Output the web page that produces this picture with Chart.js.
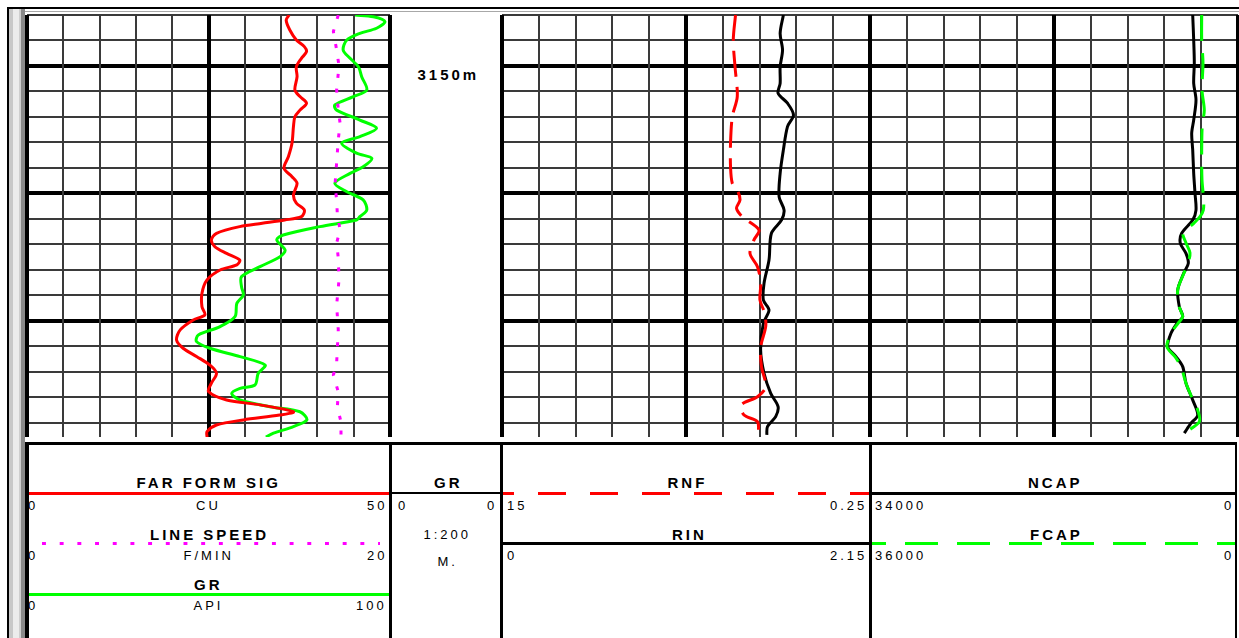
<!DOCTYPE html>
<html>
<head>
<meta charset="utf-8">
<script src="https://cdn.jsdelivr.net/npm/chart.js@4.4.1/dist/chart.umd.min.js"></script>
<style>
  html, body { margin: 0; padding: 0; background: #fff; }
  body { position: relative; width: 1239px; height: 638px; overflow: hidden;
         font-family: "Liberation Sans", Arial, sans-serif; color: #000; }
  canvas, .box, .t { position: absolute; }
  .t { white-space: nowrap; line-height: 1; font-size: 13px; letter-spacing: 3px; z-index: 1; }
  .t.b { font-weight: bold; font-size: 15px; }
  .box { z-index: 2; }
</style>
</head>
<body>
<script>
/* Well log: depth track + three curve tracks, header below. */
(function () {
  const DEPTH_TOP = 3148;
  const DEPTH_BOTTOM = 3164.55;
  const depthLabels = [3150];

  // ---- Track 1: FAR FORM SIG (CU 0-50), LINE SPEED (F/MIN 0-20), GR (API 0-100) ----
  const farDepth = [3148.00, 3148.20, 3148.59, 3148.98, 3149.24, 3149.44, 3149.70, 3150.03, 3150.42, 3150.94,
    3151.20, 3151.46, 3151.73, 3151.99, 3152.38, 3153.03, 3153.56, 3154.01, 3154.34, 3154.60,
    3155.06, 3155.38, 3155.65, 3155.91, 3156.04, 3156.17, 3156.30, 3156.56, 3156.82, 3157.09,
    3157.35, 3157.61, 3157.80, 3158.00, 3158.39, 3158.91, 3159.44, 3159.76, 3159.96, 3160.35,
    3160.75, 3161.07, 3161.40, 3161.73, 3162.05, 3162.44, 3162.77, 3163.10, 3163.29, 3163.56,
    3163.69, 3163.88, 3164.08, 3164.34, 3164.55];
  const farSig = [36.1, 35.7, 36.2, 37.1, 38.2, 38.5, 37.8, 37.1, 37.2, 36.9,
    37.6, 38.5, 37.6, 36.9, 36.7, 36.5, 36.0, 35.4, 36.5, 37.2,
    36.7, 37.1, 38.2, 37.8, 35.5, 32.4, 29.3, 26.1, 25.4, 25.9,
    27.5, 29.3, 28.9, 26.6, 24.8, 24.1, 24.1, 24.5, 22.9, 21.1,
    20.6, 21.5, 23.4, 25.2, 26.1, 25.4, 25.0, 27.5, 32.1, 36.7,
    34.8, 29.8, 26.1, 24.8, 24.8];

  const lsDepth = [3148.00, 3148.65, 3149.37, 3150.00, 3150.94, 3151.73, 3152.24, 3152.90, 3154.67, 3155.25,
    3155.84, 3156.43, 3156.94, 3157.53, 3158.39, 3159.37, 3160.35, 3161.65, 3162.12, 3162.78,
    3163.37, 3163.96, 3164.55];
  const lineSpeed = [17.15, 16.88, 17.06, 17.19, 17.06, 17.15, 17.25, 17.15, 16.97, 17.06,
    17.10, 17.25, 17.06, 17.15, 17.19, 17.06, 17.15, 17.06, 16.88, 17.15,
    17.10, 17.30, 17.30];

  const grDepth = [3148.00, 3148.07, 3148.26, 3148.52, 3148.72, 3148.98, 3149.37, 3149.70, 3150.03, 3150.42,
    3150.94, 3151.20, 3151.53, 3151.73, 3152.12, 3152.44, 3152.77, 3153.03, 3153.42, 3153.62,
    3153.95, 3154.21, 3154.60, 3154.93, 3155.25, 3155.65, 3155.91, 3156.04, 3156.30, 3156.63,
    3156.82, 3157.22, 3157.48, 3157.87, 3158.26, 3158.66, 3158.98, 3159.31, 3159.83, 3160.22,
    3160.55, 3160.81, 3161.07, 3161.40, 3161.73, 3162.05, 3162.51, 3162.64, 3162.84, 3163.10,
    3163.36, 3163.56, 3163.88, 3164.14, 3164.40, 3164.55];
  const grApi = [90.4, 95.4, 98.6, 96.3, 91.7, 88.1, 87.1, 89.0, 91.3, 92.2,
    93.6, 89.9, 84.8, 85.3, 91.7, 96.3, 91.7, 86.7, 90.8, 95.0,
    92.6, 89.0, 84.8, 88.1, 92.6, 93.6, 91.7, 90.8, 80.7, 70.6,
    68.8, 71.1, 69.7, 64.2, 59.1, 59.1, 59.6, 57.8, 57.3, 53.2,
    47.2, 46.7, 50.4, 58.7, 65.6, 63.7, 62.8, 58.7, 56.4, 58.7,
    66.9, 75.2, 77.1, 73.4, 67.9, 65.8];

  // ---- Track 3: RNF (15 -> 0.25), RIN (0 -> 2.15) ----
  const rnfDepth = [3148.00, 3148.98, 3150.03, 3151.20, 3151.99, 3153.03, 3153.95, 3154.60, 3154.86, 3155.25,
    3155.58, 3155.91, 3156.43, 3156.82, 3157.35, 3157.87, 3158.52, 3159.18, 3159.70, 3160.22,
    3161.01, 3161.79, 3162.58, 3162.97, 3163.29, 3163.69, 3163.95, 3164.40];
  const rnf = [5.64, 5.73, 5.66, 5.57, 5.77, 5.84, 5.84, 5.77, 5.57, 5.46,
    5.60, 5.37, 4.70, 4.90, 5.06, 4.76, 4.63, 4.66, 4.47, 4.43,
    4.63, 4.60, 4.43, 4.76, 5.41, 5.30, 4.76, 4.72];

  const rinDepth = [3148.00, 3148.72, 3149.37, 3150.03, 3150.68, 3151.07, 3151.46, 3151.92, 3152.38, 3153.29,
    3154.21, 3155.13, 3155.65, 3156.04, 3156.56, 3157.61, 3158.52, 3159.18, 3159.57, 3160.09,
    3161.14, 3162.05, 3162.84, 3163.36, 3163.75, 3164.14, 3164.47];
  const rin = [1.644, 1.625, 1.639, 1.625, 1.625, 1.613, 1.668, 1.703, 1.668, 1.644,
    1.625, 1.619, 1.648, 1.633, 1.574, 1.560, 1.531, 1.527, 1.560, 1.527,
    1.511, 1.531, 1.570, 1.613, 1.599, 1.551, 1.547];

  // ---- Track 4: NCAP (34000 -> 0), FCAP (36000 -> 0) ----
  const ncapDepth = [3148.00, 3148.98, 3149.89, 3150.68, 3151.33, 3152.12, 3152.64, 3153.29, 3154.21, 3154.99,
    3155.65, 3156.04, 3156.56, 3156.95, 3157.35, 3157.74, 3158.13, 3158.78, 3159.44, 3159.83,
    3160.09, 3160.48, 3161.01, 3161.40, 3161.79, 3162.44, 3163.10, 3163.69, 3164.01, 3164.40];
  const ncap = [4185, 4093, 4037, 4093, 3880, 4093, 4278, 4185, 4093, 3973,
    3880, 4185, 5202, 5331, 4804, 4592, 5017, 5571, 5423, 5109,
    5636, 6190, 6495, 5728, 5109, 4804, 4185, 3723, 4342, 4961];

  const fcapDepth = [3148.00, 3148.98, 3149.88, 3150.94, 3151.73, 3152.31, 3153.29, 3154.47, 3155.25, 3155.65,
    3155.91, 3156.16, 3156.55, 3156.94, 3157.33, 3157.73, 3158.12, 3158.78, 3159.44, 3159.83,
    3160.09, 3160.48, 3161.01, 3161.40, 3161.79, 3162.44, 3163.10, 3163.49, 3163.95, 3164.40];
  const fcap = [3551, 3551, 3424, 3522, 3297, 3493, 3551, 3522, 3356, 3395,
    3718, 4305, 5381, 5087, 4696, 4892, 5283, 5899, 5743, 5410,
    5870, 6555, 6946, 6163, 5576, 5087, 4402, 3943, 3786, 5283];

  const COL = { red: "#ff0000", green: "#00ff00", magenta: "#ff00ff", black: "#000000",
                thin: "#3a3a3a", thick: "#000000" };
  const TOP = 15, PLOT_H = 422, PAD = 4;

  const pts = (depth, vals) => depth.map((d, i) => ({ x: vals[i], y: d }));

  function box(x, y, w, h, bg) {
    const d = document.createElement("div");
    d.className = "box";
    d.style.cssText = `left:${x}px;top:${y}px;width:${w}px;height:${h}px;background:${bg};`;
    document.body.appendChild(d);
    return d;
  }

  function text(str, x, y, align, bold) {
    const d = document.createElement("div");
    d.className = "t" + (bold ? " b" : "");
    d.textContent = str;
    document.body.appendChild(d);
    const w = d.offsetWidth, h = d.offsetHeight;
    let left = x;
    if (align === "c") left = x - (w - 3) / 2;
    if (align === "r") left = x - w + 3;
    d.style.left = left + "px";
    d.style.top = (y - h / 2) + "px";
  }

  function track(left, width, axes, datasets) {
    const cv = document.createElement("canvas");
    cv.width = width + PAD * 2;
    cv.height = PLOT_H + PAD + 1;
    cv.style.left = (left - PAD) + "px";
    cv.style.top = (TOP - PAD) + "px";
    document.body.appendChild(cv);
    const scales = {
      y: {
        type: "linear", axis: "y", position: "left", min: DEPTH_TOP, max: DEPTH_BOTTOM, reverse: true,
        ticks: { display: false, stepSize: 1, includeBounds: false, maxTicksLimit: 1000 },
        border: { display: false },
        grid: {
          drawTicks: false,
          color: (c) => (c.tick.value % 5 === 0 ? COL.thick : COL.thin),
          lineWidth: (c) => (c.tick.value % 5 === 0 ? 4 : 2),
        },
      },
      xg: {
        type: "linear", axis: "x", position: "bottom", min: 0, max: 10,
        ticks: { display: false, stepSize: 1, maxTicksLimit: 1000 },
        border: { display: false },
        grid: {
          drawTicks: false,
          color: (c) => (c.tick.value % 5 === 0 ? COL.thick : COL.thin),
          lineWidth: (c) => (c.tick.value % 5 === 0 ? 4 : 2),
        },
      },
    };
    Object.keys(axes).forEach((k) => {
      scales[k] = Object.assign({ type: "linear", axis: "x", display: false }, axes[k]);
    });
    return new Chart(cv, {
      type: "line",
      data: {
        datasets: datasets.map((d) =>
          Object.assign({ pointRadius: 0, borderWidth: 3, fill: false, tension: 0.3, yAxisID: "y" }, d)
        ),
      },
      options: {
        indexAxis: "y",
        responsive: false,
        animation: false,
        events: [],
        layout: { padding: { left: PAD, right: PAD, top: PAD, bottom: 1 } },
        plugins: { legend: { display: false }, tooltip: { enabled: false } },
        scales,
      },
    });
  }

  // ---- frame ----
  box(8, 7, 1231, 2, "#000");
  box(9, 11, 1230, 1, "#a8a8a8");
  box(7, 7, 2, 631, "#000");
  box(9, 9, 4, 629, "#c8c8c8");
  box(13, 9, 6, 629, "#ececec");
  box(19, 9, 2, 629, "#cfcfcf");
  box(21, 9, 4, 629, "#8a8a8a");

  // ---- tracks ----
  const t1 = track(27, 363,
    { xFar: { min: 0, max: 50 }, xLs: { min: 0, max: 20 }, xGr: { min: 0, max: 100 } },
    [
      { label: "LINE SPEED", data: pts(lsDepth, lineSpeed), xAxisID: "xLs", borderColor: COL.magenta,
        borderDash: [4, 11], borderCapStyle: "butt", tension: 0 },
      { label: "FAR FORM SIG", data: pts(farDepth, farSig), xAxisID: "xFar", borderColor: COL.red },
      { label: "GR", data: pts(grDepth, grApi), xAxisID: "xGr", borderColor: COL.green },
    ]);

  track(502, 368,
    { xRnf: { min: 0.25, max: 15, reverse: true }, xRin: { min: 0, max: 2.15 } },
    [
      { label: "RNF", data: pts(rnfDepth, rnf), xAxisID: "xRnf", borderColor: COL.red, borderDash: [26, 10] },
      { label: "RIN", data: pts(rinDepth, rin), xAxisID: "xRin", borderColor: COL.black },
    ]);

  track(870, 368,
    { xNcap: { min: 0, max: 34000, reverse: true }, xFcap: { min: 0, max: 36000, reverse: true } },
    [
      { label: "FCAP", data: pts(fcapDepth, fcap), xAxisID: "xFcap", borderColor: COL.green, borderDash: [26, 12] },
      { label: "NCAP", data: pts(ncapDepth, ncap), xAxisID: "xNcap", borderColor: COL.black },
    ]);

  // depth labels in the depth track, placed from the depth scale
  depthLabels.forEach((d) => {
    const y = t1.scales.y.getPixelForValue(d) + TOP - PAD;
    text(d + "m", 447, y + 9, "c", true);
  });

  // ---- header ----
  box(25, 442, 1212, 3, "#000");
  box(25, 442, 4, 196, "#000");
  box(389, 442, 3, 196, "#000");
  box(500, 442, 3, 196, "#000");
  box(869, 442, 3, 196, "#000");
  box(1235, 442, 2, 196, "#000");

  const solid = (c) => c;
  const dashed = (c, on, off, shift) =>
    `repeating-linear-gradient(to right, ${c} 0 ${on}px, transparent ${on}px ${on + off}px) ${shift}px 0 / ${on + off}px 100% repeat-x`;
  box(29, 492, 360, 3, solid(COL.red));
  box(42, 542, 338, 3, dashed(COL.magenta, 4, 13.7, 0));
  box(29, 593, 360, 3, solid(COL.green));
  box(392, 492, 108, 2, solid(COL.black));
  box(503, 492, 366, 3, dashed(COL.red, 28, 24, -17));
  box(503, 542, 366, 3, solid(COL.black));
  box(872, 492, 363, 3, solid(COL.black));
  box(872, 542, 363, 3, dashed(COL.green, 33, 19, -19));

  const headerText = [
    ["FAR FORM SIG", 207, 482, "c", 1],
    ["0", 28, 505, "l"], ["CU", 207, 505, "c"], ["50", 384, 505, "r"],
    ["LINE SPEED", 208, 534, "c", 1],
    ["0", 28, 555, "l"], ["F/MIN", 207, 555, "c"], ["20", 384, 555, "r"],
    ["GR", 207, 584, "c", 1],
    ["0", 28, 605, "l"], ["API", 207, 605, "c"], ["100", 384, 605, "r"],
    ["GR", 447, 482, "c", 1],
    ["0", 398, 505, "l"], ["0", 494, 505, "r"],
    ["1:200", 446, 534, "c"], ["M.", 446, 561, "c"],
    ["RNF", 686, 482, "c", 1],
    ["15", 507, 505, "l"], ["0.25", 864, 505, "r"],
    ["RIN", 688, 534, "c", 1],
    ["0", 507, 555, "l"], ["2.15", 864, 555, "r"],
    ["NCAP", 1054, 482, "c", 1],
    ["34000", 875, 505, "l"], ["0", 1231, 505, "r"],
    ["FCAP", 1055, 534, "c", 1],
    ["36000", 875, 555, "l"], ["0", 1231, 555, "r"],
  ];
  headerText.forEach((h) => text(h[0], h[1], h[2], h[3], h[4]));
})();
</script>
</body>
</html>
